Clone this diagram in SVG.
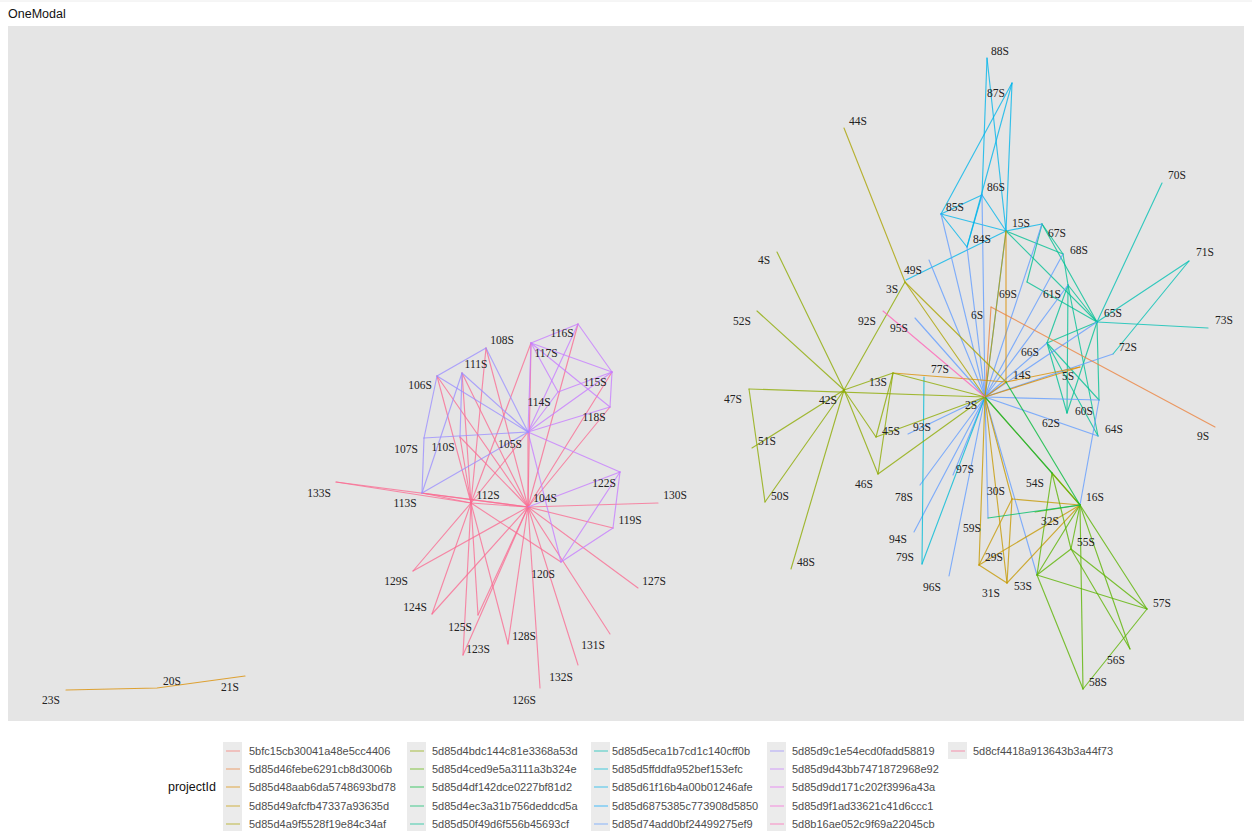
<svg xmlns="http://www.w3.org/2000/svg" width="1252" height="831" viewBox="0 0 1252 831">
<style>
.lbl{font-family:"Liberation Serif","DejaVu Serif",serif;font-size:11.5px;fill:#222;text-anchor:middle}
.leg{font-family:"Liberation Sans",Arial,sans-serif;font-size:11px;fill:#4d4d4d}
.ttl{font-family:"Liberation Sans",Arial,sans-serif;font-size:12.5px;fill:#111}
.edges line,.edges polyline{stroke-width:1.15;stroke-opacity:.78;fill:none;stroke-linecap:round}
.key line{stroke-width:1.1;stroke-opacity:.65}
.kbg{fill:#ebebeb}
.c1{stroke:#F8766D}.c2{stroke:#EC823C}.c3{stroke:#DB8E00}.c4{stroke:#C59900}.c5{stroke:#ABA300}.c6{stroke:#8DAB00}.c7{stroke:#5BB300}.c8{stroke:#00BA38}.c9{stroke:#00BD69}.c10{stroke:#00C094}.c11{stroke:#00C0B4}.c12{stroke:#00BBD6}.c13{stroke:#00B5EB}.c14{stroke:#00A9FF}.c15{stroke:#619CFF}.c16{stroke:#9B8EFF}.c17{stroke:#C77CFF}.c18{stroke:#E76BF3}.c19{stroke:#FA62D7}.c20{stroke:#FF63B6}.c21{stroke:#FA6C92}
</style>
<rect x="0" y="0" width="1252" height="831" fill="#ffffff"/>
<line x1="0" y1="1" x2="1252" y2="1" stroke="#ececec" stroke-width="1"/>
<text class="ttl" x="8" y="18">OneModal</text>
<rect x="8" y="26" width="1236" height="695" fill="#e5e5e5"/>

<g id="connectors" class="edges">
<g class="c21">
<line x1="528" y1="507" x2="437" y2="376"/><line x1="528" y1="507" x2="486" y2="348"/><line x1="528" y1="507" x2="462" y2="373"/><line x1="528" y1="507" x2="460" y2="437"/><line x1="528" y1="507" x2="531" y2="343"/><line x1="528" y1="507" x2="578" y2="324"/><line x1="528" y1="507" x2="612" y2="372"/><line x1="528" y1="507" x2="610" y2="407"/><line x1="528" y1="507" x2="528" y2="432"/><line x1="528" y1="507" x2="471" y2="503"/><line x1="528" y1="507" x2="422" y2="493"/><line x1="528" y1="507" x2="336" y2="482"/><line x1="528" y1="507" x2="658" y2="503"/><line x1="528" y1="507" x2="613" y2="528"/><line x1="528" y1="507" x2="638" y2="588"/><line x1="528" y1="507" x2="610" y2="634"/><line x1="528" y1="507" x2="578" y2="665"/><line x1="528" y1="507" x2="540" y2="688"/><line x1="528" y1="507" x2="508" y2="644"/><line x1="528" y1="507" x2="463" y2="655"/><line x1="528" y1="507" x2="478" y2="615"/><line x1="528" y1="507" x2="432" y2="614"/><line x1="528" y1="507" x2="413" y2="571"/>
<line x1="471" y1="503" x2="437" y2="376"/><line x1="471" y1="503" x2="486" y2="348"/><line x1="471" y1="503" x2="462" y2="373"/><line x1="471" y1="503" x2="460" y2="437"/><line x1="471" y1="503" x2="531" y2="343"/><line x1="471" y1="503" x2="528" y2="432"/><line x1="471" y1="503" x2="422" y2="493"/><line x1="471" y1="503" x2="336" y2="482"/><line x1="471" y1="503" x2="413" y2="571"/><line x1="471" y1="503" x2="432" y2="614"/><line x1="471" y1="503" x2="478" y2="615"/><line x1="471" y1="503" x2="463" y2="655"/><line x1="471" y1="503" x2="508" y2="644"/><line x1="471" y1="503" x2="561" y2="562"/>
</g>
<g class="c17">
<line x1="578" y1="324" x2="531" y2="343"/><line x1="578" y1="324" x2="612" y2="372"/><line x1="578" y1="324" x2="528" y2="432"/><line x1="531" y1="343" x2="558" y2="392"/><line x1="531" y1="343" x2="612" y2="372"/><line x1="531" y1="343" x2="610" y2="407"/><line x1="531" y1="343" x2="528" y2="432"/><line x1="558" y1="392" x2="612" y2="372"/><line x1="558" y1="392" x2="528" y2="432"/><line x1="612" y1="372" x2="610" y2="407"/><line x1="612" y1="372" x2="528" y2="432"/><line x1="610" y1="407" x2="528" y2="432"/><line x1="620" y1="472" x2="528" y2="432"/><line x1="620" y1="472" x2="613" y2="528"/><line x1="620" y1="472" x2="528" y2="507"/><line x1="613" y1="528" x2="561" y2="562"/><line x1="561" y1="562" x2="528" y2="432"/><line x1="620" y1="472" x2="561" y2="562"/>
</g>
<g class="c16">
<line x1="437" y1="376" x2="486" y2="348"/><line x1="437" y1="376" x2="424" y2="438"/><line x1="437" y1="376" x2="528" y2="432"/><line x1="486" y1="348" x2="528" y2="432"/><line x1="462" y1="373" x2="460" y2="437"/><line x1="462" y1="373" x2="528" y2="432"/><line x1="424" y1="438" x2="528" y2="432"/><line x1="424" y1="438" x2="422" y2="493"/><line x1="422" y1="493" x2="462" y2="373"/><line x1="422" y1="493" x2="528" y2="432"/>
</g>
<polyline class="c3" points="66,690 157,688 245,676"/>
<g class="c13">
<line x1="987" y1="58" x2="982" y2="195"/><line x1="987" y1="58" x2="1006" y2="231"/><line x1="1012" y1="83" x2="941" y2="214"/><line x1="1012" y1="83" x2="967" y2="247"/><line x1="1012" y1="83" x2="1006" y2="231"/><line x1="941" y1="214" x2="982" y2="195"/><line x1="941" y1="214" x2="967" y2="247"/><line x1="941" y1="214" x2="1006" y2="231"/><line x1="982" y1="195" x2="967" y2="247"/><line x1="982" y1="195" x2="1006" y2="231"/><line x1="906" y1="280" x2="1006" y2="231"/><line x1="1006" y1="231" x2="1042" y2="224"/>
</g>
<g class="c10">
<line x1="1042" y1="224" x2="1063" y2="254"/><line x1="1006" y1="231" x2="1063" y2="254"/><line x1="1006" y1="231" x2="1097" y2="322"/><line x1="1042" y1="224" x2="1097" y2="322"/><line x1="1063" y1="254" x2="1068" y2="285"/><line x1="1068" y1="285" x2="1047" y2="343"/><line x1="1068" y1="285" x2="1097" y2="322"/><line x1="1068" y1="285" x2="1067" y2="413"/><line x1="1068" y1="285" x2="1098" y2="436"/><line x1="1097" y1="322" x2="1047" y2="343"/><line x1="1047" y1="343" x2="1067" y2="413"/><line x1="1047" y1="343" x2="1098" y2="436"/><line x1="1097" y1="322" x2="1099" y2="400"/><line x1="1047" y1="343" x2="1099" y2="400"/><line x1="1097" y1="322" x2="1067" y2="413"/><line x1="1042" y1="224" x2="1027" y2="282"/><line x1="1027" y1="282" x2="1097" y2="322"/>
</g>
<g class="c11">
<line x1="1097" y1="322" x2="1162" y2="183"/><line x1="1097" y1="322" x2="1189" y2="261"/><line x1="1097" y1="322" x2="1208" y2="328"/><line x1="1189" y1="261" x2="1113" y2="354"/>
</g>
<g class="c15">
<line x1="985" y1="397" x2="982" y2="195"/><line x1="985" y1="397" x2="941" y2="214"/><line x1="985" y1="397" x2="967" y2="247"/><line x1="985" y1="397" x2="929" y2="260"/><line x1="985" y1="397" x2="1042" y2="224"/><line x1="985" y1="397" x2="1063" y2="254"/><line x1="985" y1="397" x2="1068" y2="285"/><line x1="985" y1="397" x2="1097" y2="322"/><line x1="985" y1="397" x2="1047" y2="343"/><line x1="985" y1="397" x2="1113" y2="354"/><line x1="985" y1="397" x2="915" y2="318"/><line x1="985" y1="397" x2="908" y2="434"/><line x1="985" y1="397" x2="914" y2="532"/><line x1="985" y1="397" x2="949" y2="576"/><line x1="985" y1="397" x2="953" y2="475"/><line x1="985" y1="397" x2="920" y2="485"/><line x1="985" y1="397" x2="988" y2="518"/><line x1="985" y1="397" x2="1099" y2="400"/><line x1="985" y1="397" x2="1098" y2="436"/><line x1="985" y1="397" x2="1037" y2="575"/><line x1="985" y1="397" x2="1006" y2="231"/><line x1="1099" y1="400" x2="1080" y2="505"/>
</g>
<g class="c12">
<line x1="924" y1="377" x2="922" y2="564"/><line x1="922" y1="564" x2="985" y2="397"/>
</g>
<g class="c3">
<line x1="1006" y1="231" x2="1006" y2="382"/><line x1="1006" y1="382" x2="1080" y2="367"/><line x1="985" y1="397" x2="1080" y2="367"/><line x1="893" y1="373" x2="1006" y2="382"/><line x1="985" y1="397" x2="1006" y2="382"/>
</g>
<g class="c2">
<line x1="991" y1="307" x2="1215" y2="427"/><line x1="991" y1="307" x2="985" y2="397"/>
</g>
<g class="c5">
<line x1="844" y1="128" x2="905" y2="282"/><line x1="905" y1="282" x2="985" y2="397"/><line x1="905" y1="282" x2="1006" y2="382"/><line x1="1006" y1="231" x2="985" y2="397"/><line x1="985" y1="397" x2="1080" y2="505"/>
</g>
<g class="c6">
<line x1="844" y1="390" x2="777" y2="252"/><line x1="844" y1="390" x2="757" y2="311"/><line x1="844" y1="390" x2="905" y2="282"/><line x1="749" y1="389" x2="985" y2="397"/><line x1="749" y1="389" x2="765" y2="502"/><line x1="765" y1="502" x2="844" y2="390"/><line x1="752" y1="448" x2="844" y2="390"/><line x1="791" y1="569" x2="844" y2="390"/><line x1="844" y1="390" x2="893" y2="373"/><line x1="844" y1="390" x2="878" y2="474"/><line x1="893" y1="373" x2="876" y2="437"/><line x1="893" y1="373" x2="878" y2="474"/><line x1="876" y1="437" x2="985" y2="397"/><line x1="878" y1="474" x2="985" y2="397"/><line x1="893" y1="373" x2="985" y2="397"/><line x1="844" y1="390" x2="876" y2="437"/>
</g>
<g class="c4">
<line x1="985" y1="397" x2="979" y2="565"/><line x1="985" y1="397" x2="1007" y2="583"/><line x1="985" y1="397" x2="1012" y2="499"/><line x1="1012" y1="499" x2="979" y2="565"/><line x1="1012" y1="499" x2="1007" y2="583"/><line x1="1012" y1="499" x2="1080" y2="505"/><line x1="979" y1="565" x2="1007" y2="583"/><line x1="979" y1="565" x2="1080" y2="505"/><line x1="1007" y1="583" x2="1080" y2="505"/>
</g>
<g class="c7">
<line x1="1080" y1="505" x2="1052" y2="473"/><line x1="1080" y1="505" x2="1071" y2="549"/><line x1="1080" y1="505" x2="1147" y2="609"/><line x1="1080" y1="505" x2="1083" y2="689"/><line x1="1080" y1="505" x2="1130" y2="649"/><line x1="1080" y1="505" x2="1037" y2="575"/><line x1="1080" y1="505" x2="1035" y2="512"/><line x1="1052" y1="473" x2="1037" y2="575"/><line x1="1052" y1="473" x2="1071" y2="549"/><line x1="1037" y1="575" x2="1147" y2="609"/><line x1="1037" y1="575" x2="1071" y2="549"/><line x1="1037" y1="575" x2="1083" y2="689"/><line x1="1147" y1="609" x2="1083" y2="689"/><line x1="1071" y1="549" x2="1130" y2="649"/><line x1="1071" y1="549" x2="1147" y2="609"/>
</g>
<g class="c8">
<line x1="1006" y1="382" x2="1080" y2="505"/><line x1="985" y1="397" x2="1052" y2="473"/>
</g>
<g class="c9">
<line x1="988" y1="518" x2="1080" y2="505"/>
</g>
<g class="c20">
<line x1="883" y1="311" x2="985" y2="397"/>
</g>
</g>

<g id="n-104S"><text class="lbl" x="545" y="502">104S</text></g>
<g id="n-105S"><text class="lbl" x="510" y="448">105S</text></g>
<g id="n-106S"><text class="lbl" x="420" y="389">106S</text></g>
<g id="n-107S"><text class="lbl" x="406" y="453">107S</text></g>
<g id="n-108S"><text class="lbl" x="502" y="344">108S</text></g>
<g id="n-110S"><text class="lbl" x="443" y="451">110S</text></g>
<g id="n-111S"><text class="lbl" x="476" y="368">111S</text></g>
<g id="n-112S"><text class="lbl" x="488" y="499">112S</text></g>
<g id="n-113S"><text class="lbl" x="405" y="507">113S</text></g>
<g id="n-114S"><text class="lbl" x="539" y="406">114S</text></g>
<g id="n-115S"><text class="lbl" x="595" y="386">115S</text></g>
<g id="n-116S"><text class="lbl" x="562" y="337">116S</text></g>
<g id="n-117S"><text class="lbl" x="546" y="357">117S</text></g>
<g id="n-118S"><text class="lbl" x="594" y="421">118S</text></g>
<g id="n-119S"><text class="lbl" x="630" y="524">119S</text></g>
<g id="n-120S"><text class="lbl" x="543" y="578">120S</text></g>
<g id="n-122S"><text class="lbl" x="604" y="487">122S</text></g>
<g id="n-123S"><text class="lbl" x="478" y="653">123S</text></g>
<g id="n-124S"><text class="lbl" x="415" y="611">124S</text></g>
<g id="n-125S"><text class="lbl" x="460" y="631">125S</text></g>
<g id="n-126S"><text class="lbl" x="524" y="704">126S</text></g>
<g id="n-127S"><text class="lbl" x="654" y="585">127S</text></g>
<g id="n-128S"><text class="lbl" x="524" y="640">128S</text></g>
<g id="n-129S"><text class="lbl" x="396" y="585">129S</text></g>
<g id="n-130S"><text class="lbl" x="675" y="499">130S</text></g>
<g id="n-131S"><text class="lbl" x="593" y="649">131S</text></g>
<g id="n-132S"><text class="lbl" x="561" y="681">132S</text></g>
<g id="n-133S"><text class="lbl" x="319" y="497">133S</text></g>
<g id="n-20S"><text class="lbl" x="172" y="685">20S</text></g>
<g id="n-21S"><text class="lbl" x="230" y="691">21S</text></g>
<g id="n-23S"><text class="lbl" x="51" y="704">23S</text></g>
<g id="n-2S"><text class="lbl" x="971" y="409">2S</text></g>
<g id="n-3S"><text class="lbl" x="892" y="293">3S</text></g>
<g id="n-4S"><text class="lbl" x="764" y="264">4S</text></g>
<g id="n-5S"><text class="lbl" x="1068" y="380">5S</text></g>
<g id="n-6S"><text class="lbl" x="977" y="319">6S</text></g>
<g id="n-9S"><text class="lbl" x="1203" y="440">9S</text></g>
<g id="n-13S"><text class="lbl" x="878" y="386">13S</text></g>
<g id="n-14S"><text class="lbl" x="1022" y="379">14S</text></g>
<g id="n-15S"><text class="lbl" x="1021" y="227">15S</text></g>
<g id="n-16S"><text class="lbl" x="1095" y="501">16S</text></g>
<g id="n-29S"><text class="lbl" x="994" y="561">29S</text></g>
<g id="n-30S"><text class="lbl" x="996" y="495">30S</text></g>
<g id="n-31S"><text class="lbl" x="991" y="597">31S</text></g>
<g id="n-32S"><text class="lbl" x="1050" y="525">32S</text></g>
<g id="n-42S"><text class="lbl" x="828" y="404">42S</text></g>
<g id="n-44S"><text class="lbl" x="858" y="125">44S</text></g>
<g id="n-45S"><text class="lbl" x="891" y="435">45S</text></g>
<g id="n-46S"><text class="lbl" x="864" y="488">46S</text></g>
<g id="n-47S"><text class="lbl" x="733" y="403">47S</text></g>
<g id="n-48S"><text class="lbl" x="806" y="566">48S</text></g>
<g id="n-49S"><text class="lbl" x="913" y="274">49S</text></g>
<g id="n-50S"><text class="lbl" x="780" y="500">50S</text></g>
<g id="n-51S"><text class="lbl" x="767" y="445">51S</text></g>
<g id="n-52S"><text class="lbl" x="742" y="325">52S</text></g>
<g id="n-53S"><text class="lbl" x="1023" y="590">53S</text></g>
<g id="n-54S"><text class="lbl" x="1035" y="487">54S</text></g>
<g id="n-55S"><text class="lbl" x="1086" y="546">55S</text></g>
<g id="n-56S"><text class="lbl" x="1116" y="664">56S</text></g>
<g id="n-57S"><text class="lbl" x="1162" y="607">57S</text></g>
<g id="n-58S"><text class="lbl" x="1098" y="686">58S</text></g>
<g id="n-59S"><text class="lbl" x="972" y="532">59S</text></g>
<g id="n-60S"><text class="lbl" x="1084" y="415">60S</text></g>
<g id="n-61S"><text class="lbl" x="1052" y="298">61S</text></g>
<g id="n-62S"><text class="lbl" x="1051" y="427">62S</text></g>
<g id="n-64S"><text class="lbl" x="1114" y="433">64S</text></g>
<g id="n-65S"><text class="lbl" x="1113" y="317">65S</text></g>
<g id="n-66S"><text class="lbl" x="1030" y="356">66S</text></g>
<g id="n-67S"><text class="lbl" x="1057" y="237">67S</text></g>
<g id="n-68S"><text class="lbl" x="1079" y="254">68S</text></g>
<g id="n-69S"><text class="lbl" x="1008" y="298">69S</text></g>
<g id="n-70S"><text class="lbl" x="1177" y="179">70S</text></g>
<g id="n-71S"><text class="lbl" x="1205" y="256">71S</text></g>
<g id="n-72S"><text class="lbl" x="1128" y="351">72S</text></g>
<g id="n-73S"><text class="lbl" x="1224" y="324">73S</text></g>
<g id="n-77S"><text class="lbl" x="940" y="373">77S</text></g>
<g id="n-78S"><text class="lbl" x="904" y="501">78S</text></g>
<g id="n-79S"><text class="lbl" x="905" y="561">79S</text></g>
<g id="n-84S"><text class="lbl" x="982" y="243">84S</text></g>
<g id="n-85S"><text class="lbl" x="955" y="211">85S</text></g>
<g id="n-86S"><text class="lbl" x="996" y="191">86S</text></g>
<g id="n-87S"><text class="lbl" x="996" y="97">87S</text></g>
<g id="n-88S"><text class="lbl" x="1000" y="55">88S</text></g>
<g id="n-92S"><text class="lbl" x="867" y="325">92S</text></g>
<g id="n-93S"><text class="lbl" x="922" y="431">93S</text></g>
<g id="n-94S"><text class="lbl" x="898" y="543">94S</text></g>
<g id="n-95S"><text class="lbl" x="899" y="332">95S</text></g>
<g id="n-96S"><text class="lbl" x="932" y="591">96S</text></g>
<g id="n-97S"><text class="lbl" x="965" y="473">97S</text></g>

<g id="legend">
<text class="ttl" x="168" y="791">projectId</text>
<rect class="kbg" x="223" y="742" width="19" height="89"/>
<rect class="kbg" x="407" y="742" width="19" height="89"/>
<rect class="kbg" x="591" y="742" width="19" height="89"/>
<rect class="kbg" x="767" y="742" width="19" height="89"/>
<rect class="kbg" x="948" y="742" width="19" height="17"/>
<g class="key">
<line class="c1" x1="226" y1="751" x2="240" y2="751"/><line class="c2" x1="226" y1="769" x2="240" y2="769"/><line class="c3" x1="226" y1="787" x2="240" y2="787"/><line class="c4" x1="226" y1="806" x2="240" y2="806"/><line class="c5" x1="226" y1="824" x2="240" y2="824"/>
<line class="c6" x1="410" y1="751" x2="424" y2="751"/><line class="c7" x1="410" y1="769" x2="424" y2="769"/><line class="c8" x1="410" y1="787" x2="424" y2="787"/><line class="c9" x1="410" y1="806" x2="424" y2="806"/><line class="c10" x1="410" y1="824" x2="424" y2="824"/>
<line class="c11" x1="594" y1="751" x2="608" y2="751"/><line class="c12" x1="594" y1="769" x2="608" y2="769"/><line class="c13" x1="594" y1="787" x2="608" y2="787"/><line class="c14" x1="594" y1="806" x2="608" y2="806"/><line class="c15" x1="594" y1="824" x2="608" y2="824"/>
<line class="c16" x1="770" y1="751" x2="784" y2="751"/><line class="c17" x1="770" y1="769" x2="784" y2="769"/><line class="c18" x1="770" y1="787" x2="784" y2="787"/><line class="c19" x1="770" y1="806" x2="784" y2="806"/><line class="c20" x1="770" y1="824" x2="784" y2="824"/>
<line class="c21" x1="951" y1="751" x2="965" y2="751"/>
</g>
<text class="leg" x="249" y="755">5bfc15cb30041a48e5cc4406</text>
<text class="leg" x="249" y="773">5d85d46febe6291cb8d3006b</text>
<text class="leg" x="249" y="791">5d85d48aab6da5748693bd78</text>
<text class="leg" x="249" y="810">5d85d49afcfb47337a93635d</text>
<text class="leg" x="249" y="828">5d85d4a9f5528f19e84c34af</text>
<text class="leg" x="432" y="755">5d85d4bdc144c81e3368a53d</text>
<text class="leg" x="432" y="773">5d85d4ced9e5a3111a3b324e</text>
<text class="leg" x="432" y="791">5d85d4df142dce0227bf81d2</text>
<text class="leg" x="432" y="810">5d85d4ec3a31b756deddcd5a</text>
<text class="leg" x="432" y="828">5d85d50f49d6f556b45693cf</text>
<text class="leg" x="612" y="755">5d85d5eca1b7cd1c140cff0b</text>
<text class="leg" x="612" y="773">5d85d5ffddfa952bef153efc</text>
<text class="leg" x="612" y="791">5d85d61f16b4a00b01246afe</text>
<text class="leg" x="612" y="810">5d85d6875385c773908d5850</text>
<text class="leg" x="612" y="828">5d85d74add0bf24499275ef9</text>
<text class="leg" x="792" y="755">5d85d9c1e54ecd0fadd58819</text>
<text class="leg" x="792" y="773">5d85d9d43bb7471872968e92</text>
<text class="leg" x="792" y="791">5d85d9dd171c202f3996a43a</text>
<text class="leg" x="792" y="810">5d85d9f1ad33621c41d6ccc1</text>
<text class="leg" x="792" y="828">5d8b16ae052c9f69a22045cb</text>
<text class="leg" x="973" y="755">5d8cf4418a913643b3a44f73</text>
</g>
</svg>
